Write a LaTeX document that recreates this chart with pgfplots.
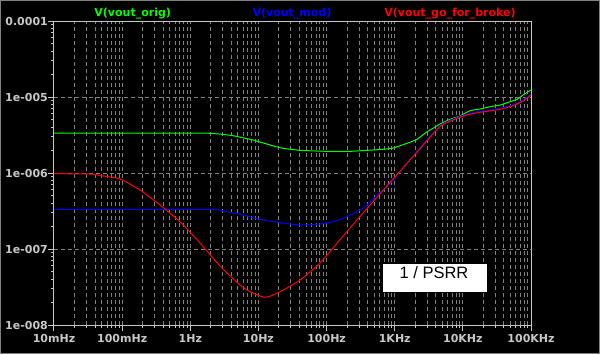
\documentclass[border=0pt]{standalone}
\usepackage{fontspec}
\setmainfont{DejaVu Sans}
\newfontfamily\arialfont{Liberation Sans}
\usepackage{pgfplots}
\pgfplotsset{compat=1.18}
\definecolor{ltgrid}{RGB}{128,128,128}
\definecolor{ltlabel}{RGB}{200,200,200}
\definecolor{ltgreen}{RGB}{0,255,0}
\definecolor{ltblue}{RGB}{0,0,255}
\definecolor{ltred}{RGB}{255,0,0}
\begin{document}
\begin{tikzpicture}
\fill[black] (-54pt,-29pt) rectangle (546pt,325pt);
\draw[ltgrid, line width=1.5pt] (-53.25pt,-28.25pt) rectangle (545.25pt,324.25pt);
\begin{axis}[
  at={(0pt,0pt)}, anchor=south west,
  scale only axis, width=477pt, height=304pt,
  xmode=log, ymode=log,
  xmin=0.01, xmax=1e5, ymin=1e-8, ymax=1e-4,
  axis line style={ltlabel, line width=1pt},
  tick style={ltlabel, line width=1pt},
  major tick length=6pt, minor tick length=3pt,
  tick align=outside, tick pos=left,
  xtick={0.01,0.1,1,10,100,1000,10000,100000},
  xticklabels={10mHz,100mHz,1Hz,10Hz,100Hz,1KHz,10KHz,100KHz},
  ytick={1e-8,1e-7,1e-6,1e-5,1e-4},
  yticklabels={1e-008,1e-007,1e-006,1e-005,0.0001},
  ticklabel style={font=\bfseries\fontsize{11}{13}\selectfont, text=ltlabel},
  yticklabel style={inner xsep=0pt},
  xmajorgrids, xminorgrids, ymajorgrids,
  major grid style={ltgrid, dash pattern=on 4pt off 3pt, line width=1pt},
  minor grid style={ltgrid, dash pattern=on 4pt off 3pt, line width=1pt},
]
% V(vout_orig)
\addplot[ltgreen, line width=1pt, smooth, tension=0.3] coordinates {
(0.01,3.36e-6)(0.05,3.36e-6)(0.2,3.36e-6)(0.7,3.36e-6)(1.701,3.35e-6)(2.731,3.25e-6)(4.236,3.095e-6)(8.33,2.717e-6)
(20.73,2.152e-6)(40.76,1.989e-6)(101.5,1.929e-6)(220.8,1.929e-6)(608.4,2.038e-6)
(912.6,2.113e-6)(1080.7,2.219e-6)(1515,2.459e-6)(2125,2.775e-6)(2979,3.494e-6)
(3648,3.875e-6)(4622,4.413e-6)(6479,5.088e-6)(9085,5.623e-6)(12735,6.603e-6)
(17856,6.952e-6)(25030,7.455e-6)(35100,7.846e-6)(49200,8.673e-6)(62350,9.326e-6)
(76370,1.062e-5)(100000,1.24e-5)
};
% V(vout_mod)
\addplot[ltblue, line width=1pt, smooth, tension=0.3] coordinates {
(0.01,3.33e-7)(0.05,3.33e-7)(0.2,3.33e-7)(0.7,3.33e-7)(1.5,3.33e-7)(2.306,3.32e-7)(3.42,3.1e-7)(5.366,2.861e-7)
(10.55,2.459e-7)(20.73,2.219e-7)(40.76,2.069e-7)(80.1,2.133e-7)(124.3,2.287e-7)
(174.3,2.534e-7)(279.8,3.096e-7)(392.3,3.792e-7)(549.8,5.134e-7)(770.9,6.603e-7)
(1196,1.04e-6)(2351,2.16e-6)(4622,4.2e-6)(7171,5.13e-6)(11510,5.97e-6)
(17856,6.48e-6)(35100,7.1e-6)(54460,7.9e-6)(76370,9.1e-6)(100000,1.09e-5)
};
% V(vout_go_for_broke)
\addplot[ltred, line width=1pt, smooth, tension=0.4] coordinates {
(0.01,9.8e-7)(0.03375,9.7e-7)(0.0473,9.27e-7)(0.0930,8.34e-7)(0.1828,5.975e-7)
(0.3594,3.792e-7)(0.7063,2.287e-7)(1.389,1.199e-7)(2.731,5.975e-8)(5.366,3.36e-8)
(7.52,2.743e-8)(12.49,2.314e-8)(20.73,2.743e-8)(40.76,3.908e-8)(80.1,6.543e-8)
(157.5,1.33e-7)(309.6,2.685e-7)(608.4,5.325e-7)(1196,1.056e-6)(2351,2.095e-6)
(4622,4.09e-6)(7171,4.98e-6)(11510,5.797e-6)(17856,6.29e-6)(35100,6.89e-6)
(54460,7.685e-6)(76370,8.859e-6)(100000,1.062e-5)
};
\end{axis}
\begin{scope}[every node/.style={font=\bfseries\fontsize{11}{13}\selectfont, inner sep=0pt}]
\node[text=ltgreen] at (78.7pt,311.5pt) {V(vout\_orig)};
\node[text=ltblue] at (238pt,311.5pt) {V(vout\_mod)};
\node[text=ltred] at (396pt,311.5pt) {V(vout\_go\_for\_broke)};
\end{scope}
\fill[white] (329pt,33.3pt) rectangle (433pt,61pt);
\node[font=\arialfont\fontsize{16.5}{18}\selectfont, text=black, inner sep=0pt] at (380pt,52.8pt) {1 / PSRR};
\pgfresetboundingbox
\useasboundingbox (-54pt,-29pt) rectangle (546pt,325pt);
\end{tikzpicture}
\end{document}
